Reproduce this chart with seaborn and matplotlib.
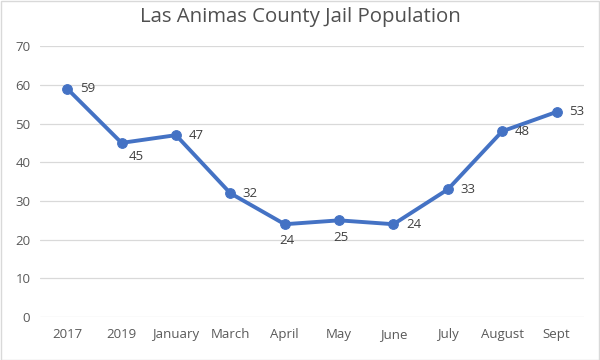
import matplotlib
matplotlib.use("Agg")
import matplotlib.pyplot as plt
import seaborn as sns
import pandas as pd

# chart data
months = ['2017', '2019', 'January', 'March', 'April', 'May', 'June',
          'July', 'August', 'Sept']
population = [59, 45, 47, 32, 24, 25, 24, 33, 48, 53]

# label offsets in points (Excel-ish placement)
label_dx = [9, 5, 9, 9, -4, -4, 9, 9, 9, 9]
label_dy = [0, -10, 0, 0, -12, -12, 0, 0, 0, 0]


def create_plot():
    sns.set_theme(style="white")
    plt.rcParams['font.family'] = ['Open Sans', 'DejaVu Sans']
    df = pd.DataFrame({'x': range(len(months)), 'pop': population})

    fig = plt.figure(figsize=(6, 3.6), dpi=100)
    ax = fig.add_axes([0.0667, 0.119, 0.9063, 0.753])

    for v in range(0, 71, 10):
        ax.axhline(v, color='#D9D9D9', lw=0.9, zorder=0)

    sns.lineplot(data=df, x='x', y='pop', ax=ax, color='#4472C4', lw=2.8,
                 marker='o', markersize=7, markeredgecolor='#4472C4')

    for i, v in enumerate(population):
        ax.annotate(str(v), (i, v), xytext=(label_dx[i], label_dy[i]),
                    textcoords='offset points', va='center', ha='left',
                    fontsize=9.5, color='#404040')

    ax.set_xlim(-0.5, len(months) - 0.5)
    ax.set_ylim(0, 70)
    ax.set_xticks(range(len(months)))
    ax.set_xticklabels(months)
    ax.set_yticks(range(0, 71, 10))
    ax.tick_params(axis='x', pad=8)
    ax.tick_params(axis='y', pad=7)
    ax.tick_params(axis='both', labelsize=9.5, colors='#595959', length=0)
    ax.set_xlabel('')
    ax.set_ylabel('')
    for s in ax.spines.values():
        s.set_visible(False)

    fig.text(0.5, 0.953, 'Las Animas County Jail Population', ha='center',
             va='center', fontsize=14.7, color='#505050')

    fig.patches.append(plt.Rectangle((0.001, 0.001), 0.997, 0.997,
                                     transform=fig.transFigure, fill=False,
                                     edgecolor='#D9D9D9', lw=1))

    fig.savefig('out.png', dpi=100)


if __name__ == "__main__":
    create_plot()
